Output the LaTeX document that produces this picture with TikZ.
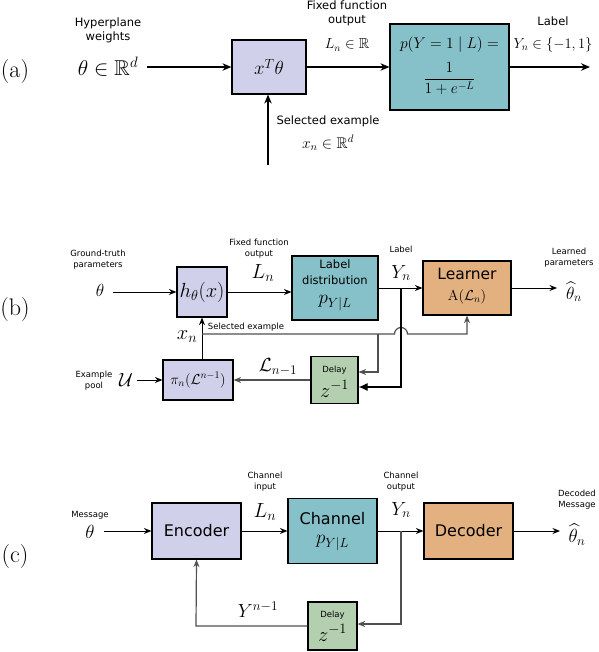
\RequirePackage{fix-cm}
\documentclass[tikz,border=0pt]{standalone}
\usepackage{amsmath,amssymb}
\usepackage{fontspec}
\newfontfamily\sfd{DejaVu Sans}
\usetikzlibrary{arrows.meta,calc}
\definecolor{lavc}{RGB}{208,208,234}
\definecolor{cyc}{RGB}{134,192,200}
\definecolor{orc}{RGB}{227,176,128}
\definecolor{grc}{RGB}{180,207,176}
\definecolor{fbl}{RGB}{80,80,80}
\begin{document}
\begin{tikzpicture}[x=1pt,y=-1pt,
  bx/.style={draw=black,line width=1.2pt,inner sep=0pt},
  lavb/.style={bx,fill=lavc},
  cyb/.style={bx,fill=cyc},
  orb/.style={bx,fill=orc},
  grb/.style={bx,fill=grc},
  sa/.style={font=\sfd\fontsize{11.5}{14}\selectfont,align=center,inner sep=0pt},
  sb/.style={font=\sfd\fontsize{8.5}{11}\selectfont,align=center,inner sep=0pt},
  sm/.style={font=\sfd\fontsize{11.5}{16}\selectfont,align=center,inner sep=0pt},
  sbig/.style={font=\sfd\fontsize{16}{19}\selectfont,inner sep=0pt},
  m14/.style={font=\fontsize{14.5}{17}\selectfont,inner sep=0pt},
  m15/.style={font=\fontsize{15.5}{18}\selectfont,inner sep=0pt},
  m17/.style={font=\fontsize{17.5}{20}\selectfont,inner sep=0pt},
  m19/.style={font=\fontsize{19}{22}\selectfont,inner sep=0pt},
  m20/.style={font=\fontsize{20.5}{24}\selectfont,inner sep=0pt},
  m21/.style={font=\fontsize{21.5}{25}\selectfont,inner sep=0pt},
  pl/.style={font=\fontsize{24}{28}\selectfont,inner sep=0pt},
  arr/.style={line width=1pt,-{Stealth[length=7.5pt,width=6pt]}},
  arrA/.style={line width=1.1pt,-{Stealth[length=9pt,width=7.5pt]}},
  garr/.style={arr,draw=fbl,line width=1.2pt},
  bigarr/.style={line width=1.1pt,-{Latex[length=9pt,width=8pt]}}
]
\useasboundingbox (0,0) rectangle (598,652);

%% ---------------- (a) ----------------
\node[pl] (la) at (15,72) {(a)};
\node[sa] (hw) at (108,30) {Hyperplane\\weights};
\node[m21] (tha) at (108,67) {$\theta\in\mathbb{R}^d$};
\node[lavb,minimum width=74pt,minimum height=54pt] (xt) at (269,67) {};
\node[m19] at (xt.center) {$x^T\theta$};
\node[sa] (ffo) at (347,13) {Fixed function\\output};
\node[m14] (lna) at (347,45) {$L_n\in\mathbb{R}$};
\node[cyb,minimum width=119pt,minimum height=86pt] (cy) at (449.5,67) {};
\node[m15] at (449.5,45) {$p(Y=1\mid L)=$};
\node[m15] at (449.5,79) {$\dfrac{1}{1+e^{-L}}$};
\node[sa] (lba) at (553,21) {Label};
\node[m14] (yna) at (553,45) {$Y_n\in\{-1,1\}$};
\node[sa] (sea) at (328,121) {Selected example};
\node[m15] (xna) at (328,143) {$x_n\in\mathbb{R}^d$};
\coordinate (a1) at (147,67);
\coordinate (a2) at (590,67);
\coordinate (a3) at (268,165);
\draw[arrA] (a1) -- (xt.west);
\draw[arrA] (xt.east) -- (cy.west);
\draw[arrA] (cy.east) -- (a2);
\draw[arrA] (a3) -- (a3 |- xt.south);

%% ---------------- (b) ----------------
\node[pl] (lb) at (15,310) {(b)};
\node[sb] (gtp) at (98,260) {Ground-truth\\parameters};
\node[m17] (thb) at (100,290) {$\theta$};
\node[lavb,minimum width=50pt,minimum height=50pt] (h) at (202,292) {};
\node[m20] at (h.center) {$h_\theta(x)$};
\node[sb] (ffb) at (259,248.5) {Fixed function\\output};
\node[m20] (lnb) at (263,273) {$L_n$};
\node[cyb,minimum width=86pt,minimum height=64pt] (ld) at (335,288) {};
\node[sm] at (335,272.5) {Label\\distribution};
\node[m19] at (335,303) {$p_{Y|L}$};
\node[sb] (lbb) at (401,249) {Label};
\node[m19] (ynb) at (401,273) {$Y_n$};
\node[orb,minimum width=88pt,minimum height=54pt] (lr) at (467,288) {};
\node[font=\sfd\fontsize{15.5}{18}\selectfont,inner sep=0pt] at (467,274) {Learner};
\node[m14] at (467,297) {$\mathrm{A}(\mathcal{L}_n)$};
\node[sb] (lp) at (569,257.5) {Learned\\parameters};
\node[m17] (thh) at (574,292) {$\widehat{\theta}_n$};
\node[grb,minimum width=47pt,minimum height=47pt] (dlb) at (334.5,380) {};
\node[sb] at (334.5,370) {Delay};
\node[m20] at (334.5,389) {$z^{-1}$};
\node[lavb,minimum width=70pt,minimum height=40pt] (pi) at (198,380) {};
\node[m14] at (pi.center) {$\pi_n(\mathcal{L}^{n-1})$};
\node[sb] (ep) at (94,380.5) {Example\\pool};
\node[m19] (U) at (126,380) {$\mathcal{U}$};
\node[m20] (xnb) at (187,337) {$x_n$};
\node[sb] (seb) at (246,327) {Selected example};
\node[m19] (lnm) at (278,367) {$\mathcal{L}_{n-1}$};

\coordinate (b1) at (113,292);
\coordinate (b2) at (557,288);
\coordinate (b3) at (137,380);
\coordinate (yj) at (401,288);
\coordinate (yd) at (401,387);
\coordinate (xj) at (202,334);
\coordinate (hp) at (394.5,334);
\coordinate (lc) at (467,334);
\coordinate (brj) at (378,334);
\coordinate (brd) at (378,372);

\draw[arr] (b1) -- (h.west);
\draw[arr] (h.east) -- (h.east -| ld.west);
\draw[arr] (ld.east) -- (lr.west);
\draw[arr] (lr.east) -- (b2);
\draw[arr] (b3) -- (pi.west);
\draw[arr] (pi.north -| h.south) -- (h.south);
\draw[garr] (xj) -- (hp) arc[start angle=180,end angle=0,radius=6.5pt] -- (lc) -- (lr.south);
\draw[garr] (brj) -- (brd) -- (brd -| dlb.east);
\draw[bigarr] (yj) -- (yd) -- (yd -| dlb.east);
\draw[garr] (dlb.west) -- (pi.east);

%% ---------------- (c) ----------------
\node[pl] (lc0) at (15,557) {(c)};
\node[sb] (msg) at (90,515) {Message};
\node[m19] (thc) at (90,532) {$\theta$};
\node[lavb,minimum width=89pt,minimum height=56pt] (enc) at (196.5,531) {};
\node[sbig] at (enc.center) {Encoder};
\node[sb] (ci) at (265,482) {Channel\\input};
\node[m20] (lnc) at (265,512) {$L_n$};
\node[cyb,minimum width=89pt,minimum height=65pt] (ch) at (332.5,531) {};
\node[sbig] at (332.5,519) {Channel};
\node[m19] at (332.5,543) {$p_{Y|L}$};
\node[sb] (co) at (401,481.5) {Channel\\output};
\node[m19] (ync) at (401,510) {$Y_n$};
\node[orb,minimum width=89pt,minimum height=56pt] (dec) at (468.5,531) {};
\node[sbig] at (dec.center) {Decoder};
\node[sb] (dm) at (577,500) {Decoded\\Message};
\node[m19] (thhc) at (577,535) {$\widehat{\theta}_n$};
\node[grb,minimum width=49pt,minimum height=48pt] (dlc) at (332.5,626) {};
\node[sb] at (332.5,615) {Delay};
\node[m20] at (332.5,633) {$z^{-1}$};
\node[m19] (ynm) at (258,610) {$Y^{n-1}$};

\coordinate (c1) at (104,531);
\coordinate (c2) at (560,531);
\coordinate (cj) at (401,531);
\coordinate (cd) at (401,624);
\coordinate (ce) at (196,626);

\draw[arr] (c1) -- (enc.west);
\draw[arr] (enc.east) -- (ch.west);
\draw[arr] (ch.east) -- (dec.west);
\draw[arr] (dec.east) -- (c2);
\draw[garr] (cj) -- (cd) -- (cd -| dlc.east);
\draw[garr] (dlc.west) -- (ce) -- (enc.south);
\end{tikzpicture}
\end{document}
